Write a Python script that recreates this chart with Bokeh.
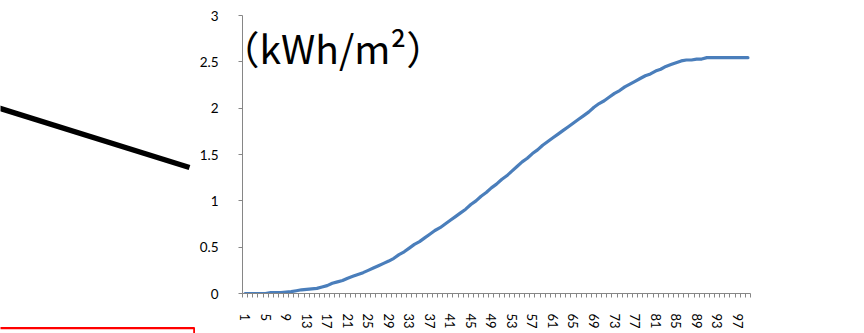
from bokeh.plotting import figure
from bokeh.layouts import row, column
from bokeh.models import Range1d, FixedTicker, CustomJSTickFormatter, Label
from bokeh.embed import file_html
from bokeh.resources import INLINE

# ---- data ----
categories = list(range(1, 100))
values = [
    0, 0, 0, 0, 0,
    0.01, 0.01, 0.01, 0.015, 0.02,
    0.03, 0.04, 0.045, 0.05, 0.055,
    0.07, 0.085, 0.11, 0.125, 0.14,
    0.165, 0.185, 0.205, 0.225, 0.25,
    0.275, 0.3, 0.325, 0.35, 0.38,
    0.42, 0.45, 0.49, 0.53, 0.56,
    0.6, 0.64, 0.68, 0.71, 0.75,
    0.79, 0.83, 0.87, 0.91, 0.96,
    1.0, 1.05, 1.09, 1.14, 1.18,
    1.23, 1.27, 1.32, 1.37, 1.42,
    1.46, 1.51, 1.55, 1.6, 1.64,
    1.68, 1.72, 1.76, 1.8, 1.84,
    1.88, 1.92, 1.96, 2.01, 2.05,
    2.08, 2.12, 2.16, 2.19, 2.23,
    2.26, 2.29, 2.32, 2.35, 2.37,
    2.4, 2.42, 2.45, 2.47, 2.49,
    2.51, 2.52, 2.52, 2.53, 2.53,
    2.545, 2.545, 2.545, 2.545, 2.545, 2.545, 2.545, 2.545, 2.545,
]
x_label_ticks = list(range(1, 100, 4))
y_ticks = [0, 0.5, 1, 1.5, 2, 2.5, 3]
unit_text = "（kWh/m²）"

# decorative shapes on the left side (pixel space)
deco_line_x = [-2, 189]
deco_line_y = [107.3, 167]
red_box_x = [-5, 193.8, 193.8]
red_box_y = [327.7, 327.7, 345]

LEFT_W = 195

# ---- left decorative panel ----
left = figure(width=LEFT_W, height=333, output_backend="svg", toolbar_location=None,
              x_range=Range1d(0, LEFT_W), y_range=Range1d(333, 0),
              min_border=0)
left.axis.visible = False
left.grid.visible = False
left.outline_line_color = None
left.line(deco_line_x, deco_line_y, line_color="black", line_width=5.5, line_cap="butt")
left.line(red_box_x, red_box_y, line_color="#ff0000", line_width=2.2)

# ---- chart ----
axis_gray = "#868686"
p = figure(width=864 - LEFT_W, height=333, output_backend="svg", toolbar_location=None,
           x_range=Range1d(0.5, 99.5), y_range=Range1d(0, 3),
           min_border_left=47, min_border_right=114, min_border_top=15, min_border_bottom=40)
p.grid.visible = False
p.outline_line_color = None

p.line(categories, values, line_color="#4A7EBB", line_width=3.2, line_join="round", line_cap="round")

font = "Lato"
# y axis
p.yaxis.ticker = FixedTicker(ticks=y_ticks, minor_ticks=[])
p.yaxis.formatter = CustomJSTickFormatter(code="return tick.toString();")
p.yaxis.axis_line_color = axis_gray
p.yaxis.major_tick_line_color = axis_gray
p.yaxis.major_tick_in = 0
p.yaxis.major_tick_out = 4
p.yaxis.minor_tick_line_color = None
p.yaxis.major_label_standoff = 20
p.yaxis.major_label_text_font = font
p.yaxis.major_label_text_font_size = "13.5px"
p.yaxis.major_label_text_color = "black"

# x axis
p.xaxis.ticker = FixedTicker(ticks=x_label_ticks,
                             minor_ticks=[c - 0.5 for c in categories] + [categories[-1] + 0.5])
p.xaxis.axis_line_color = axis_gray
p.xaxis.major_tick_line_color = None
p.xaxis.major_tick_in = 0
p.xaxis.major_tick_out = 0
p.xaxis.minor_tick_line_color = axis_gray
p.xaxis.minor_tick_in = 0
p.xaxis.minor_tick_out = 4
p.xaxis.major_label_orientation = "vertical"
p.xaxis.major_label_standoff = 16
p.xaxis.major_label_text_font = font
p.xaxis.major_label_text_font_size = "13px"
p.xaxis.major_label_text_color = "black"

lab = Label(x=0.5, y=2.66, x_offset=-22, text=unit_text,
            text_font="Noto Sans CJK JP", text_font_size="39px",
            text_color="black", text_baseline="alphabetic")
p.add_layout(lab)

layout = row(column(left), p, spacing=0)
open("out.html", "w").write(file_html(layout, INLINE))
